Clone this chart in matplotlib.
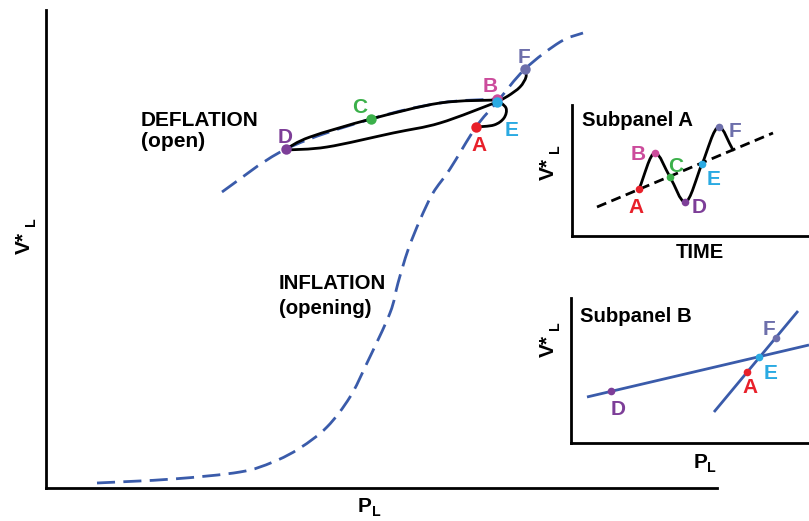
import matplotlib
matplotlib.use("Agg")
import matplotlib.pyplot as plt
from matplotlib.path import Path
from matplotlib.patches import PathPatch
import numpy as np

plt.rcParams['font.family'] = ['Liberation Sans', 'DejaVu Sans']
plt.rcParams['font.weight'] = 'bold'

# ---------------------------------------------------------------- data
# Canvas units are pixels: x to the right, y downwards.
point_names = ["A", "B", "C", "D", "E", "F"]
point_colors = {"A": "#E8202A", "B": "#CC4C9C", "C": "#3BB04A",
                "D": "#7D3E98", "E": "#2AAAE2", "F": "#6D6FAB"}
curve_blue = "#3A5BAA"

# Main panel: inflation (opening) curve and deflation (open) curve
inflation_x = [97, 173, 240, 273, 300, 327, 350, 367, 390, 398, 408, 420,
               433, 450, 476, 497, 525, 560, 583]
inflation_y = [483, 479, 472, 462, 448, 427, 397, 363, 313, 283, 250, 220,
               193, 169, 127, 102, 69, 42, 33]
deflation_x = [222, 286, 371, 440, 497]
deflation_y = [192, 149, 119, 103, 99]

# Hysteresis trajectory A -> B -> C -> D -> E -> F
traj_AB = [(476, 127), (494, 125), (504, 118), (506, 108), (497, 100)]
traj_BD = [(497, 100), (440, 103), (371, 119), (310, 137), (286, 149)]
traj_DE = [(286, 150), (327, 147), (393, 133), (440, 123), (497, 102)]
traj_EF = [(497, 102), (508, 96), (520, 87), (526, 77), (525, 69)]

main_pts_x = [476, 497, 371, 286, 497, 525]
main_pts_y = [127, 99, 119, 149, 102, 69]
main_lbl_x = [479, 490, 360, 285, 512, 524]
main_lbl_y = [151, 92, 113, 143, 136, 63]

# Subpanel A: trend line and oscillation in time
trendA_x = [597, 773]
trendA_y = [207, 133]
waveA_x = [639, 655, 670, 685, 702, 719, 733]
waveA_y = [189, 153, 177, 202, 164, 127, 150]
subA_pts_x = [639, 655, 670, 685, 702, 719]
subA_pts_y = [189, 153, 177, 202, 164, 127]
subA_lbl_x = [636, 638, 676, 699, 714, 735]
subA_lbl_y = [213, 160, 172, 213, 185, 137]

# Subpanel B: two straight relations crossing at E
lineB1_x = [587, 809]
lineB1_y = [397, 345]
lineB2_x = [714, 798]
lineB2_y = [412, 311]
subB_names = ["D", "A", "E", "F"]
subB_pts_x = [611, 747, 759, 776]
subB_pts_y = [391, 372, 357, 338]
subB_lbl_x = [618, 750, 771, 769]
subB_lbl_y = [415, 393, 379, 335]

# ---------------------------------------------------------------- helpers
W, H = 809, 521
fig = plt.figure(figsize=(W / 100, H / 100), dpi=100)


def add_panel(left, top, right, bottom, lw=2.0):
    ax = fig.add_axes([left / W, 1 - bottom / H, (right - left) / W,
                       (bottom - top) / H])
    ax.set_xlim(left, right)
    ax.set_ylim(bottom, top)
    ax.spines[['top', 'right']].set_visible(False)
    for s in ('left', 'bottom'):
        ax.spines[s].set_linewidth(lw)
    ax.set_xticks([])
    ax.set_yticks([])
    ax.patch.set_alpha(0)
    return ax


def smooth_codes(pts):
    """Cubic Bezier vertices (Catmull-Rom tangents) through pts."""
    pts = np.asarray(pts, float)
    n = len(pts)
    verts, codes = [pts[0]], [Path.MOVETO]
    for i in range(n - 1):
        p0 = pts[i - 1] if i > 0 else pts[i]
        p1, p2 = pts[i], pts[i + 1]
        p3 = pts[i + 2] if i + 2 < n else pts[i + 1]
        verts += [p1 + (p2 - p0) / 6, p2 - (p3 - p1) / 6, p2]
        codes += [Path.CURVE4] * 3
    return verts, codes


def hermite_codes(xs, ys):
    """Cubic Bezier vertices for y(x) with flat tangents at extrema."""
    x = np.asarray(xs, float)
    y = np.asarray(ys, float)
    n = len(x)
    m = np.zeros(n)
    for i in range(n):
        if i == 0:
            m[i] = (y[1] - y[0]) / (x[1] - x[0])
        elif i == n - 1:
            m[i] = (y[-1] - y[-2]) / (x[-1] - x[-2])
        elif (y[i] - y[i - 1]) * (y[i + 1] - y[i]) <= 0:
            m[i] = 0.0
        else:
            m[i] = (y[i + 1] - y[i - 1]) / (x[i + 1] - x[i - 1])
    verts, codes = [(x[0], y[0])], [Path.MOVETO]
    for i in range(n - 1):
        h = x[i + 1] - x[i]
        verts += [(x[i] + h / 3, y[i] + m[i] * h / 3),
                  (x[i + 1] - h / 3, y[i + 1] - m[i + 1] * h / 3),
                  (x[i + 1], y[i + 1])]
        codes += [Path.CURVE4] * 3
    return verts, codes


def draw_path(ax, verts, codes, **kw):
    ax.add_patch(PathPatch(Path(verts, codes), fill=False, **kw))


def sub_label(ax, x, y, main, sub, size=15, rotation=0, dx=0, dy=0):
    ax.text(x, y, main, fontsize=size, fontweight='bold', rotation=rotation,
            ha='center', va='center')
    ax.text(x + dx, y + dy, sub, fontsize=size * 0.68, fontweight='bold',
            rotation=rotation, ha='center', va='center')


# ---------------------------------------------------------------- main panel
ax = add_panel(46, 10, 717, 488)

v, c = smooth_codes(list(zip(inflation_x, inflation_y)))
draw_path(ax, v, c, edgecolor=curve_blue, lw=2.0, linestyle=(0, (6.5, 3)),
          capstyle='butt', zorder=2)
v, c = smooth_codes(list(zip(deflation_x, deflation_y)))
draw_path(ax, v, c, edgecolor=curve_blue, lw=2.0, linestyle=(0, (6.5, 3)),
          capstyle='butt', zorder=2)

all_v, all_c = [], []
for seg in (traj_AB, traj_BD, traj_DE, traj_EF):
    v, c = smooth_codes(seg)
    if all_v:
        c = [Path.LINETO] + c[1:]
    all_v += list(v)
    all_c += c
draw_path(ax, all_v, all_c, edgecolor='black', lw=2.0, joinstyle='round',
          capstyle='round', zorder=3)

for name, px, py, lx, ly in zip(point_names, main_pts_x, main_pts_y,
                                main_lbl_x, main_lbl_y):
    ax.plot(px, py, 'o', ms=7.5, color=point_colors[name], mec='none',
            zorder=5 if name != "E" else 6)
    ax.text(lx, ly, name, color=point_colors[name], fontsize=15,
            fontweight='bold', ha='center', va='baseline', zorder=7)

ax.text(141, 126, "DEFLATION", fontsize=15, fontweight='bold',
        ha='left', va='baseline')
ax.text(141, 147, "(open)", fontsize=15, fontweight='bold',
        ha='left', va='baseline')
ax.text(279, 289, "INFLATION", fontsize=14.7, fontweight='bold',
        ha='left', va='baseline')
ax.text(279, 314, "(opening)", fontsize=14.7, fontweight='bold',
        ha='left', va='baseline')

# ---------------------------------------------------------------- subpanel A
axA = add_panel(572, 105, 809, 236)
axA.plot(trendA_x, trendA_y, color='black', lw=2.0, linestyle=(0, (3.6, 2.0)),
         zorder=2)
v, c = hermite_codes(waveA_x, waveA_y)
draw_path(axA, v, c, edgecolor='black', lw=2.0, capstyle='round', zorder=3)
for name, px, py, lx, ly in zip(point_names, subA_pts_x, subA_pts_y,
                                subA_lbl_x, subA_lbl_y):
    axA.plot(px, py, 'o', ms=5.5, color=point_colors[name], mec='none',
             zorder=5)
    axA.text(lx, ly, name, color=point_colors[name], fontsize=15,
             fontweight='bold', ha='center', va='baseline', zorder=6)
axA.text(582, 126, "Subpanel A", fontsize=14.7, fontweight='bold',
         ha='left', va='baseline')

# ---------------------------------------------------------------- subpanel B
axB = add_panel(571, 298, 809, 443)
axB.plot(lineB1_x, lineB1_y, color=curve_blue, lw=2.0, zorder=2,
         solid_capstyle='butt')
axB.plot(lineB2_x, lineB2_y, color=curve_blue, lw=2.0, zorder=2,
         solid_capstyle='butt')
for name, px, py, lx, ly in zip(subB_names, subB_pts_x, subB_pts_y,
                                subB_lbl_x, subB_lbl_y):
    axB.plot(px, py, 'o', ms=5.5, color=point_colors[name], mec='none',
             zorder=5)
    axB.text(lx, ly, name, color=point_colors[name], fontsize=15,
             fontweight='bold', ha='center', va='baseline', zorder=6)
axB.text(580, 322, "Subpanel B", fontsize=14.7, fontweight='bold',
         ha='left', va='baseline')

# ---------------------------------------------------------------- axis labels
ov = fig.add_axes([0, 0, 1, 1])
ov.set_xlim(0, W)
ov.set_ylim(H, 0)
ov.axis('off')
ov.patch.set_alpha(0)

sub_label(ov, 24, 243, "V*", "L", rotation=90, dx=7, dy=-21)
sub_label(ov, 365, 507, "P", "L", dx=11, dy=5)
sub_label(ov, 548, 169, "V*", "L", rotation=90, dx=7, dy=-20)
sub_label(ov, 548, 346, "V*", "L", rotation=90, dx=7, dy=-20)
sub_label(ov, 701, 463, "P", "L", dx=10, dy=5)
ov.text(700, 253, "TIME", fontsize=14.5, fontweight='bold', ha='center',
        va='center')

fig.savefig("out.png", dpi=100)
